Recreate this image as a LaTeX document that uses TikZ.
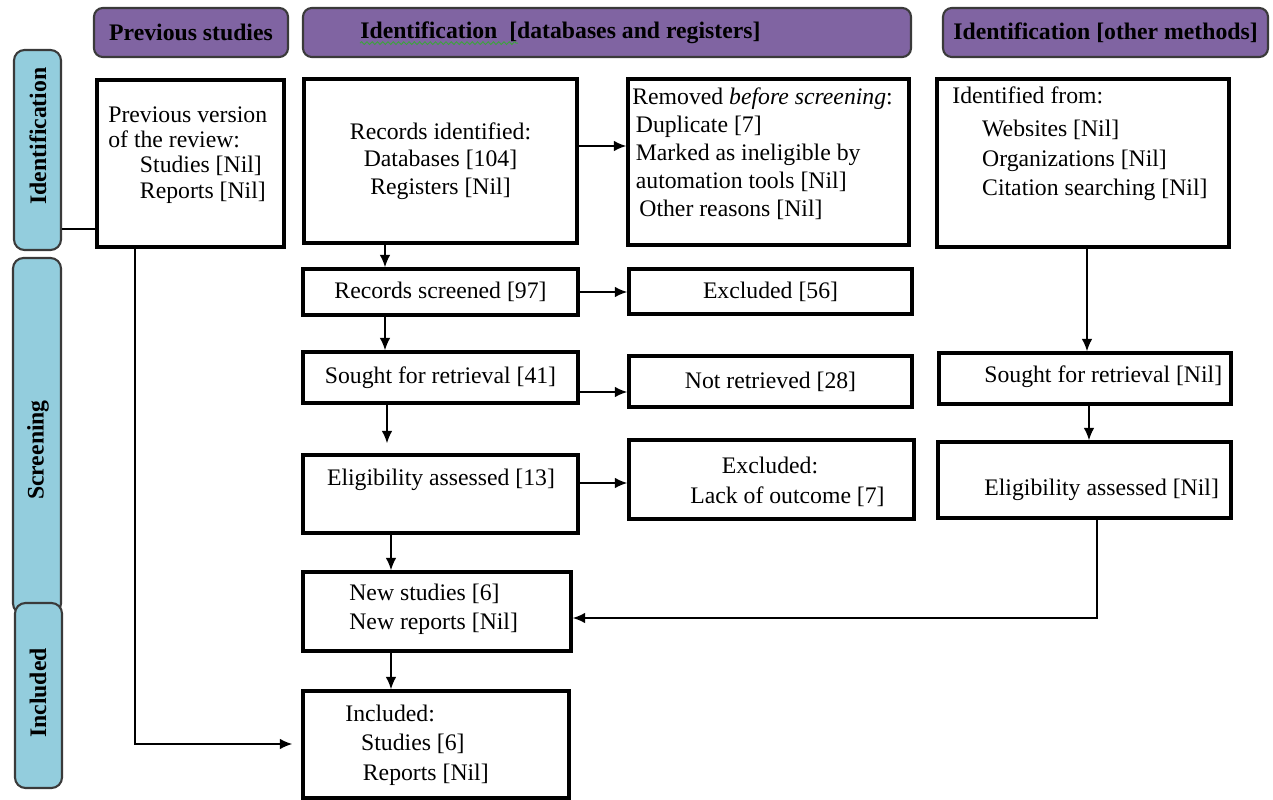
\documentclass[tikz,border=0pt]{standalone}
\usepackage{fontspec}
\setmainfont{Liberation Serif}
\usetikzlibrary{arrows.meta}
\usetikzlibrary{decorations.pathmorphing}
\definecolor{headpurple}{HTML}{8064A2}
\definecolor{sideblue}{HTML}{93CDDD}
\definecolor{edgegray}{HTML}{3A3A3A}
\definecolor{squiggreen}{HTML}{3DA33D}
\tikzstyle{txt}=[font=\fontsize{13.5}{15.5}\selectfont, inner sep=0pt]
\tikzstyle{bold}=[font=\fontsize{13.5}{15.5}\selectfont\bfseries, inner sep=0pt]
\tikzstyle{box}=[txt, draw, line width=2pt]
\tikzstyle{header}=[bold, draw=edgegray, line width=1.2pt, fill=headpurple, rounded corners=5pt]
\tikzstyle{side}=[draw=edgegray, line width=1.2pt, fill=sideblue, rounded corners=6pt]
\tikzstyle{arr}=[line width=0.9pt, -{Latex[length=7pt,width=6pt]}]
\tikzstyle{link}=[line width=0.9pt]
\tikzset{wh/.style 2 args={minimum width=#1*0.02cm, minimum height=#2*0.02cm}}

\begin{document}
\begin{tikzpicture}[x=0.02cm, y=-0.02cm]
    \useasboundingbox (0,0) rectangle (1273,800);
    % side bars
    \node[side, wh={48}{356}] (sscr) at (37,436) {};
    \node[side, wh={47}{185}] (sinc) at (38.5,695.5) {};
    \node[side, wh={47}{200}] (sid) at (37.5,150) {};
    \node[bold, rotate=90] (sidtxt) at (38,136) {Identification};
    \node[bold, rotate=90] (sscrtxt) at (38,450) {Screening};
    \node[bold, rotate=90] (sinctxt) at (38,693) {Included};
    % headers
    \node[header, wh={194}{49}] (hprev) at (191,32.5) {Previous studies};
    \node[header, wh={608}{49}] (hdb) at (607,32.5) {};
    \node[bold, anchor=west] (hdbtxt) at (360,33) {Identification\ \ [databases and registers]};
    \draw[squiggreen, line width=0.5pt, decorate, decoration={snake, amplitude=0.8pt, segment length=3pt}]
        ([yshift=-2.5pt]hdbtxt.base west) -- ++(158,0);
    \node[header, wh={325}{49}] (hoth) at (1105.5,32.5) {Identification [other methods]};
    % boxes
    \node[box, wh={187}{167}] (prev) at (190.5,163.5) {};
    \node[txt, align=left, anchor=west, font=\fontsize{13.5}{14.3}\selectfont] (prevtxt) at (108,155)
        {Previous version\\of the review:\\\hspace*{18pt}Studies [Nil]\\\hspace*{18pt}Reports [Nil]};
    \node[box, wh={273}{164}, align=center, font=\fontsize{13.5}{15.6}\selectfont] (recid) at (440.5,161)
        {Records identified:\\Databases [104]\\Registers [Nil]};
    \node[box, wh={281}{166}] (removed) at (768.5,162) {};
    \node[txt, align=left, anchor=west, font=\fontsize{13.5}{15.9}\selectfont] (removedtxt) at (632,153.5)
        {Removed \textit{before screening}:\\\hspace*{2pt}Duplicate [7]\\\hspace*{2pt}Marked as ineligible by\\\hspace*{2pt}automation tools [Nil]\\\hspace*{4pt}Other reasons [Nil]};
    \node[box, wh={292}{168}] (other) at (1083,163) {};
    \node[txt, align=left, anchor=west, font=\fontsize{13.5}{16.8}\selectfont] (othertxt) at (952,144)
        {Identified from:\\[2pt]\hspace*{17pt}Websites [Nil]\\\hspace*{17pt}Organizations [Nil]\\\hspace*{17pt}Citation searching [Nil]};
    \node[box, wh={275}{46}] (recscr) at (440.5,292) {Records screened [97]};
    \node[box, wh={283}{45}] (excl1) at (770.5,291.5) {Excluded [56]};
    \node[box, wh={275}{51}] (sought) at (440.5,377.5) {Sought for retrieval [41]};
    \node[box, wh={283}{51}] (notret) at (770.5,381.5) {Not retrieved [28]};
    \node[box, wh={292}{51}] (soughtn) at (1085,378.5) {};
    \node[txt, anchor=west] (soughtntxt) at (984,377) {Sought for retrieval [Nil]};
    \node[box, wh={275}{78}] (elig) at (440.5,494) {};
    \node[txt] (eligtxt) at (441,480) {Eligibility assessed [13]};
    \node[box, wh={285}{79}] (excl2) at (771.5,479.5) {};
    \node[txt, align=left, anchor=west, font=\fontsize{13.5}{17}\selectfont] (excl2txt) at (690,482)
        {\hspace*{18pt}Excluded:\\Lack of outcome [7]};
    \node[box, wh={293}{76}] (elign) at (1084.5,480) {};
    \node[txt, anchor=west] (eligntxt) at (984,490) {Eligibility assessed [Nil]};
    \node[box, wh={268}{79}] (newst) at (437,611.5) {};
    \node[txt, align=left, anchor=west, font=\fontsize{13.5}{16.4}\selectfont] (newsttxt) at (349,609.5)
        {New studies [6]\\New reports [Nil]};
    \node[box, wh={266}{107}] (incl) at (436,744.5) {};
    \node[txt, align=left, anchor=west, font=\fontsize{13.5}{16.7}\selectfont] (incltxt) at (345,745)
        {Included:\\\hspace*{9pt}Studies [6]\\\hspace*{10pt}Reports [Nil]};
    % columns and rows for connectors
    \coordinate (colA) at (385,0);
    \coordinate (colB) at (387,0);
    \coordinate (colC) at (391,0);
    \coordinate (colP) at (135,0);
    \coordinate (colR) at (1087,0);
    \coordinate (colS) at (1089,0);
    \coordinate (colT) at (1097,0);
    \coordinate (rowP) at (0,744);
    \coordinate (rowT) at (0,618);
    % connectors
    \draw[link] ([yshift=0.44cm]sid.south east) -- ([yshift=0.44cm]sid.south east -| prev.west);
    \draw[arr] ([yshift=0.3cm]recid.east) -- ([yshift=0.3cm]recid.east -| removed.west);
    \draw[arr] (recid.south -| colA) -- (recscr.north -| colA);
    \draw[arr] (recscr.east) -- (recscr.east -| excl1.west);
    \draw[arr] (recscr.south -| colA) -- (sought.north -| colA);
    \draw[arr] ([yshift=-0.29cm]sought.east) -- ([yshift=-0.29cm]sought.east -| notret.west);
    \draw[arr] (sought.south -| colB) -- ([yshift=0.2cm]elig.north -| colB);
    \draw[arr] ([yshift=0.22cm]elig.east) -- ([yshift=0.22cm]elig.east -| excl2.west);
    \draw[arr] (elig.south -| colC) -- (newst.north -| colC);
    \draw[arr] (newst.south -| colC) -- (incl.north -| colC);
    \draw[arr] (prev.south -| colP) -- (rowP -| colP) -- ([xshift=-0.18cm]incl.west |- rowP);
    \draw[arr] (other.south -| colR) -- (soughtn.north -| colR);
    \draw[arr] (soughtn.south -| colS) -- (elign.north -| colS);
    \draw[arr] (elign.south -| colT) -- (rowT -| colT) -- (newst.east |- rowT);
\end{tikzpicture}
\end{document}
